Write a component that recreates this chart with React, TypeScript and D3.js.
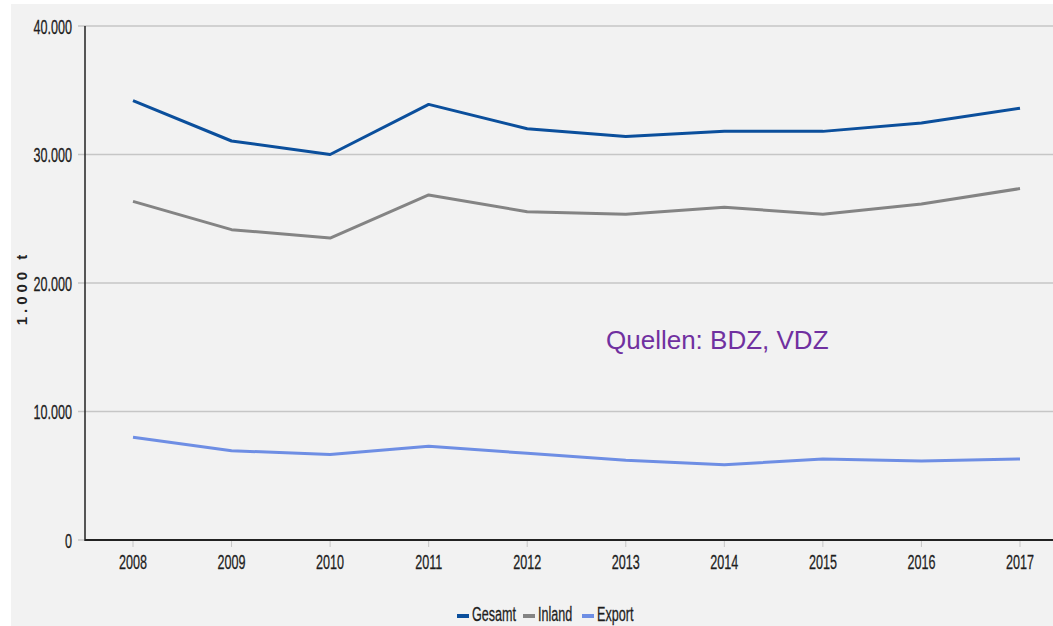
import * as d3 from "d3";
import React from "react";

const years = ["2008", "2009", "2010", "2011", "2012", "2013", "2014", "2015", "2016", "2017"];
const gesamt = [34200, 31050, 30000, 33900, 32000, 31400, 31800, 31800, 32450, 33600];
const inland = [26350, 24150, 23500, 26850, 25550, 25350, 25900, 25350, 26150, 27350];
const exportVals = [8000, 6950, 6650, 7300, 6750, 6200, 5850, 6300, 6150, 6300];
const yTicks = [0, 10000, 20000, 30000, 40000];
const seriesNames = ["Gesamt", "Inland", "Export"];
const seriesColors = ["#0b4f9c", "#848484", "#6e8ee4"];

const W = 1053;
const H = 626;
const sans = "'Liberation Sans', Arial, sans-serif";

const fmt = (v: number) => (v === 0 ? "0" : d3.format(",")(v).replace(/,/g, "."));

// no narrow font installed, so squeeze Liberation Sans horizontally
const NText = ({
	x,
	y,
	anchor = "start",
	children,
}: {
	x: number;
	y: number;
	anchor?: string;
	children: React.ReactNode;
}) => (
	<text
		transform={`translate(${x},${y}) scale(0.6,1)`}
		textAnchor={anchor}
		fontFamily={sans}
		fontSize={21}
		fill="#1e1e1e"
		stroke="#1e1e1e"
		strokeWidth={0.3}
	>
		{children}
	</text>
);

const App = () => {
	const x = d3.scalePoint<string>().domain(years).range([133, 1020]);
	const y = d3.scaleLinear().domain([0, 40000]).range([540, 26]);
	const line = d3
		.line<number>()
		.x((_, i) => x(years[i]) as number)
		.y((d) => y(d));
	const series = [gesamt, inland, exportVals];

	const legendX = [457, 523, 582];

	return (
		<svg
			width={W}
			height={H}
			style={{ position: "absolute", left: 0, top: 0, background: "#fff" }}
		>
			<rect x={11} y={4} width={W - 11} height={H - 4} fill="#f2f2f2" />
			{yTicks.map((t) => (
				<g key={t}>
					<line
						x1={78}
						x2={t > 0 ? W : 85}
						y1={y(t)}
						y2={y(t)}
						stroke="#c6c6c6"
						strokeWidth={1.5}
					/>
					<NText x={72} y={y(t) + 7.5} anchor="end">
						{fmt(t)}
					</NText>
				</g>
			))}
			{years.map((yr) => (
				<g key={yr}>
					<line x1={x(yr)} x2={x(yr)} y1={540} y2={547} stroke="#c6c6c6" strokeWidth={1} />
					<NText x={x(yr) as number} y={569} anchor="middle">
						{yr}
					</NText>
				</g>
			))}
			<line x1={85} x2={85} y1={26} y2={541} stroke="#222" strokeWidth={1.5} />
			<line x1={85} x2={W} y1={540} y2={540} stroke="#222" strokeWidth={2} />
			{series.map((s, i) => (
				<path
					key={seriesNames[i]}
					d={line(s) ?? ""}
					fill="none"
					stroke={seriesColors[i]}
					strokeWidth={3}
					strokeLinejoin="round"
				/>
			))}
			<text
				transform="translate(27,288) rotate(-90)"
				textAnchor="middle"
				fontFamily={sans}
				fontSize={15}
				fontWeight="bold"
				letterSpacing={4}
				fill="#222"
			>
				1.000 t
			</text>
			<text x={606} y={349} fontFamily={sans} fontSize={26} fill="#7030a0">
				Quellen: BDZ, VDZ
			</text>
			{seriesNames.map((n, i) => (
				<g key={n}>
					<rect x={legendX[i]} y={614} width={12} height={4} fill={seriesColors[i]} />
					<NText x={legendX[i] + 15} y={621}>
						{n}
					</NText>
				</g>
			))}
		</svg>
	);
};

export default App;
